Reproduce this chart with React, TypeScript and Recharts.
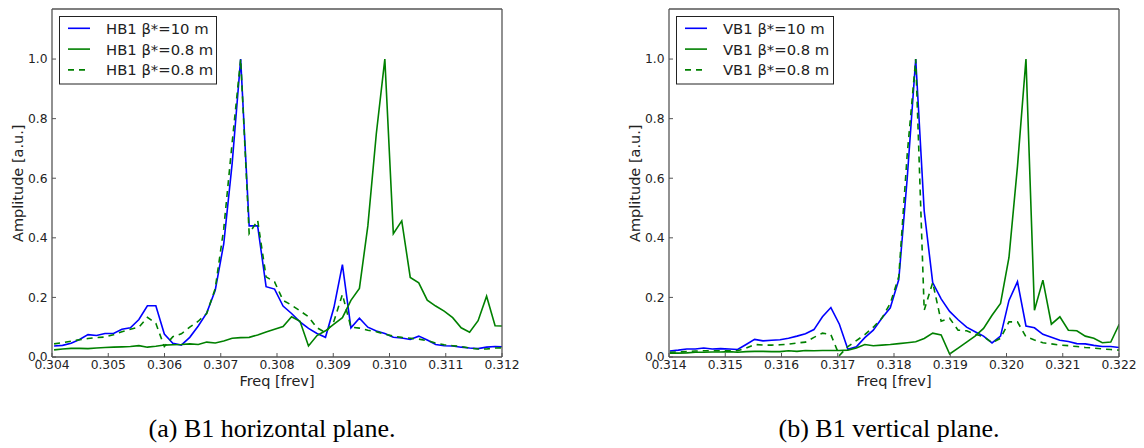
import React from 'react';
import { LineChart, Line, XAxis, YAxis } from 'recharts';

// frequency bins [frev]
const freqH = [
  0.304037, 0.304188, 0.304339, 0.30449, 0.30464, 0.304791, 0.304942, 0.305093, 0.305243, 0.305394,
  0.305545, 0.305696, 0.305846, 0.305997, 0.306148, 0.306299, 0.306449, 0.3066, 0.306751, 0.306902,
  0.307053, 0.307203, 0.307354, 0.307505, 0.307656, 0.307806, 0.307957, 0.308108, 0.308259, 0.308409,
  0.30856, 0.308711, 0.308862, 0.309012, 0.309163, 0.309314, 0.309465, 0.309615, 0.309766, 0.309917,
  0.310068, 0.310218, 0.310369, 0.31052, 0.310671, 0.310821, 0.310972, 0.311123, 0.311274, 0.311424,
  0.311575, 0.311726, 0.311877, 0.312028,
];
const freqV = [
  0.314014, 0.314165, 0.314316, 0.314466, 0.314617, 0.314768, 0.314919, 0.315069, 0.31522, 0.315371,
  0.315522, 0.315672, 0.315823, 0.315974, 0.316125, 0.316275, 0.316426, 0.316577, 0.316728, 0.316878,
  0.317029, 0.31718, 0.317331, 0.317481, 0.317632, 0.317783, 0.317934, 0.318085, 0.318235, 0.318386,
  0.318537, 0.318688, 0.318838, 0.318989, 0.31914, 0.319291, 0.319441, 0.319592, 0.319743, 0.319894,
  0.320044, 0.320195, 0.320346, 0.320497, 0.320647, 0.320798, 0.320949, 0.3211, 0.32125, 0.321401,
  0.321552, 0.321703, 0.321854, 0.322004,
];

// horizontal plane
const hb1Beta10 = [
  0.037, 0.039, 0.046, 0.059, 0.075, 0.072, 0.079, 0.079, 0.093, 0.098,
  0.126, 0.172, 0.172, 0.077, 0.046, 0.04, 0.066, 0.104, 0.148, 0.224,
  0.38, 0.65, 1.0, 0.44, 0.44, 0.236, 0.228, 0.171, 0.146, 0.118,
  0.096, 0.079, 0.066, 0.166, 0.31, 0.098, 0.13, 0.1, 0.087, 0.079,
  0.066, 0.064, 0.059, 0.07, 0.057, 0.042, 0.038, 0.037, 0.033, 0.03,
  0.028, 0.033, 0.035, 0.034,
];
const hb1Beta08 = [
  0.024, 0.027, 0.029, 0.029, 0.028, 0.03, 0.032, 0.033, 0.034, 0.035,
  0.038, 0.033, 0.036, 0.04, 0.041, 0.042, 0.044, 0.042, 0.05, 0.047,
  0.054, 0.063, 0.065, 0.066, 0.074, 0.084, 0.093, 0.102, 0.135, 0.12,
  0.037, 0.072, 0.088, 0.11, 0.132, 0.19, 0.23, 0.44, 0.75, 1.0,
  0.414, 0.457, 0.267, 0.249, 0.191, 0.171, 0.154, 0.132, 0.098, 0.083,
  0.122, 0.204, 0.105, 0.104,
];
const hb1Beta08b = [
  0.044, 0.048, 0.053, 0.058, 0.062, 0.065, 0.067, 0.075, 0.085, 0.093,
  0.1, 0.133, 0.113, 0.035, 0.068, 0.078, 0.1, 0.12, 0.146, 0.23,
  0.43, 0.72, 1.0, 0.414, 0.459, 0.269, 0.252, 0.19, 0.174, 0.155,
  0.135, 0.098, 0.082, 0.12, 0.21, 0.1, 0.097, 0.09, 0.085, 0.077,
  0.07, 0.066, 0.063, 0.06, 0.055, 0.047, 0.041, 0.038, 0.035, 0.03,
  0.027, 0.027, 0.03, 0.031,
];

// vertical plane
const vb1Beta10 = [
  0.02, 0.023, 0.027, 0.027, 0.03, 0.027, 0.028, 0.027, 0.025, 0.042,
  0.059, 0.054, 0.056, 0.058, 0.063, 0.07, 0.078, 0.092, 0.135, 0.166,
  0.11, 0.026, 0.034, 0.065, 0.09, 0.13, 0.165, 0.26, 0.6, 1.0,
  0.49, 0.25, 0.195, 0.153, 0.125, 0.1, 0.085, 0.07, 0.047, 0.07,
  0.19, 0.253, 0.104, 0.098, 0.076, 0.066, 0.056, 0.052, 0.045, 0.044,
  0.039, 0.035, 0.035, 0.032,
];
const vb1Beta08 = [
  0.013, 0.013, 0.014, 0.016, 0.016, 0.017, 0.017, 0.018, 0.016, 0.018,
  0.019, 0.019, 0.018, 0.018, 0.021, 0.019, 0.022, 0.021, 0.022, 0.022,
  0.022, 0.023, 0.03, 0.042, 0.038, 0.04, 0.042, 0.045, 0.048, 0.051,
  0.062, 0.08, 0.074, 0.01, 0.03, 0.05, 0.07, 0.096, 0.14, 0.18,
  0.334, 0.64, 1.0, 0.157, 0.258, 0.11, 0.135, 0.09, 0.088, 0.07,
  0.063, 0.048, 0.05, 0.11,
];
const vb1Beta08b = [
  0.016, 0.017, 0.018, 0.02, 0.021, 0.021, 0.021, 0.021, 0.021, 0.03,
  0.042, 0.04, 0.04, 0.041, 0.043, 0.047, 0.05, 0.066, 0.08, 0.075,
  0.005, 0.035, 0.055, 0.075, 0.1, 0.13, 0.18, 0.27, 0.68, 1.0,
  0.157, 0.25, 0.12, 0.13, 0.09, 0.088, 0.077, 0.068, 0.048, 0.063,
  0.118, 0.118, 0.068, 0.057, 0.048, 0.044, 0.04, 0.038, 0.035, 0.032,
  0.03, 0.027, 0.025, 0.023,
];

const ticksH = [0.304, 0.305, 0.306, 0.307, 0.308, 0.309, 0.31, 0.311, 0.312];
const ticksV = [0.314, 0.315, 0.316, 0.317, 0.318, 0.319, 0.32, 0.321, 0.322];
const ticksY = [0, 0.2, 0.4, 0.6, 0.8, 1.0];

const FONT = '"DejaVu Sans", sans-serif';
const SPINE = '#555';
const TXT = '#222';
const BLUE = '#0000ff';
const GREEN = '#008000';

interface PanelProps {
  left: number;
  freq: number[];
  s10: number[];
  s08: number[];
  s08b: number[];
  names: string[];
  ticks: number[];
}

function Panel({ left, freq, s10, s08, s08b, names, ticks }: PanelProps) {
  const data = freq.map((f, i) => ({ f, a: s10[i], b: s08[i], c: s08b[i] }));
  const domain: [number, number] = [ticks[0], ticks[ticks.length - 1]];
  const tickStyle = { fill: TXT, fontSize: 12.3, fontFamily: FONT };
  const rows = [
    { name: names[0], color: BLUE, dash: undefined },
    { name: names[1], color: GREEN, dash: undefined },
    { name: names[2], color: GREEN, dash: '6 5' },
  ];
  return (
    <div style={{ position: 'absolute', left, top: 0, width: 520, height: 400 }}>
      <LineChart width={520} height={400} data={data} margin={{ top: 8, right: 17, left: 0, bottom: 0 }}>
        <XAxis
          dataKey="f"
          type="number"
          domain={domain}
          ticks={ticks}
          allowDataOverflow
          height={43}
          tickFormatter={(v: number) => v.toFixed(3)}
          tickSize={-4}
          tickMargin={7}
          tick={tickStyle}
          axisLine={{ stroke: SPINE, strokeWidth: 1.3 }}
          tickLine={{ stroke: SPINE }}
        />
        <XAxis
          xAxisId="top"
          orientation="top"
          type="number"
          domain={domain}
          ticks={ticks}
          allowDataOverflow
          height={1}
          tick={false}
          tickSize={-4}
          axisLine={{ stroke: SPINE, strokeWidth: 1.3 }}
          tickLine={{ stroke: SPINE }}
        />
        <YAxis
          type="number"
          domain={[0, 1.168]}
          ticks={ticksY}
          allowDataOverflow
          width={52}
          tickFormatter={(v: number) => v.toFixed(1)}
          tickSize={-4}
          tickMargin={8.5}
          tick={tickStyle}
          axisLine={{ stroke: SPINE, strokeWidth: 1.3 }}
          tickLine={{ stroke: SPINE }}
        />
        <YAxis
          yAxisId="right"
          orientation="right"
          type="number"
          domain={[0, 1.168]}
          ticks={ticksY}
          allowDataOverflow
          width={1}
          tick={false}
          tickSize={-4}
          axisLine={{ stroke: SPINE, strokeWidth: 1.3 }}
          tickLine={{ stroke: SPINE }}
        />
        <Line type="linear" dataKey="a" stroke={BLUE} strokeWidth={1.6} dot={false} isAnimationActive={false} />
        <Line type="linear" dataKey="b" stroke={GREEN} strokeWidth={1.6} dot={false} isAnimationActive={false} />
        <Line type="linear" dataKey="c" stroke={GREEN} strokeWidth={1.6} strokeDasharray="6 5" dot={false} isAnimationActive={false} />
      </LineChart>
      <svg width={520} height={400} style={{ position: 'absolute', left: 0, top: 0, pointerEvents: 'none' }}>
        <rect x={59.5} y={16.5} width={157} height={67.5} fill="#fff" stroke={TXT} strokeWidth={1} />
        {rows.map((r, i) => (
          <g key={r.name + i}>
            <line x1={68} x2={90} y1={28.3 + i * 20.8} y2={28.3 + i * 20.8} stroke={r.color} strokeWidth={1.6} strokeDasharray={r.dash} />
            <text x={106} y={28.3 + i * 20.8} dominantBaseline="central" fontFamily={FONT} fontSize={14.8} fill={TXT}>
              {r.name}
            </text>
          </g>
        ))}
      </svg>
      <div
        style={{
          position: 'absolute', left: 17.5 - 100, top: 183 - 7.25, width: 200, lineHeight: '14.5px',
          textAlign: 'center', transform: 'rotate(-90deg)', fontFamily: FONT, fontSize: 14.5, color: TXT,
        }}
      >
        Amplitude [a.u.]
      </div>
      <div
        style={{
          position: 'absolute', left: 277 - 100, top: 373.7, width: 200, lineHeight: '14.5px',
          textAlign: 'center', fontFamily: FONT, fontSize: 14.5, color: TXT,
        }}
      >
        Freq [frev]
      </div>
    </div>
  );
}

const captionStyle: React.CSSProperties = {
  position: 'absolute', top: 416, width: 400, lineHeight: '26px', textAlign: 'center',
  fontFamily: '"Liberation Serif", "Times New Roman", serif', fontSize: 26, color: '#000',
};

export default function App() {
  return (
    <div style={{ position: 'absolute', left: 0, top: 0, width: 1144, height: 448, background: '#fff', overflow: 'hidden' }}>
      <Panel
        left={0}
        freq={freqH}
        s10={hb1Beta10}
        s08={hb1Beta08}
        s08b={hb1Beta08b}
        names={['HB1 β*=10 m', 'HB1 β*=0.8 m', 'HB1 β*=0.8 m']}
        ticks={ticksH}
      />
      <Panel
        left={617}
        freq={freqV}
        s10={vb1Beta10}
        s08={vb1Beta08}
        s08b={vb1Beta08b}
        names={['VB1 β*=10 m', 'VB1 β*=0.8 m', 'VB1 β*=0.8 m']}
        ticks={ticksV}
      />
      <div style={{ ...captionStyle, left: 272 - 200 }}>(a) B1 horizontal plane.</div>
      <div style={{ ...captionStyle, left: 889 - 200 }}>(b) B1 vertical plane.</div>
    </div>
  );
}
